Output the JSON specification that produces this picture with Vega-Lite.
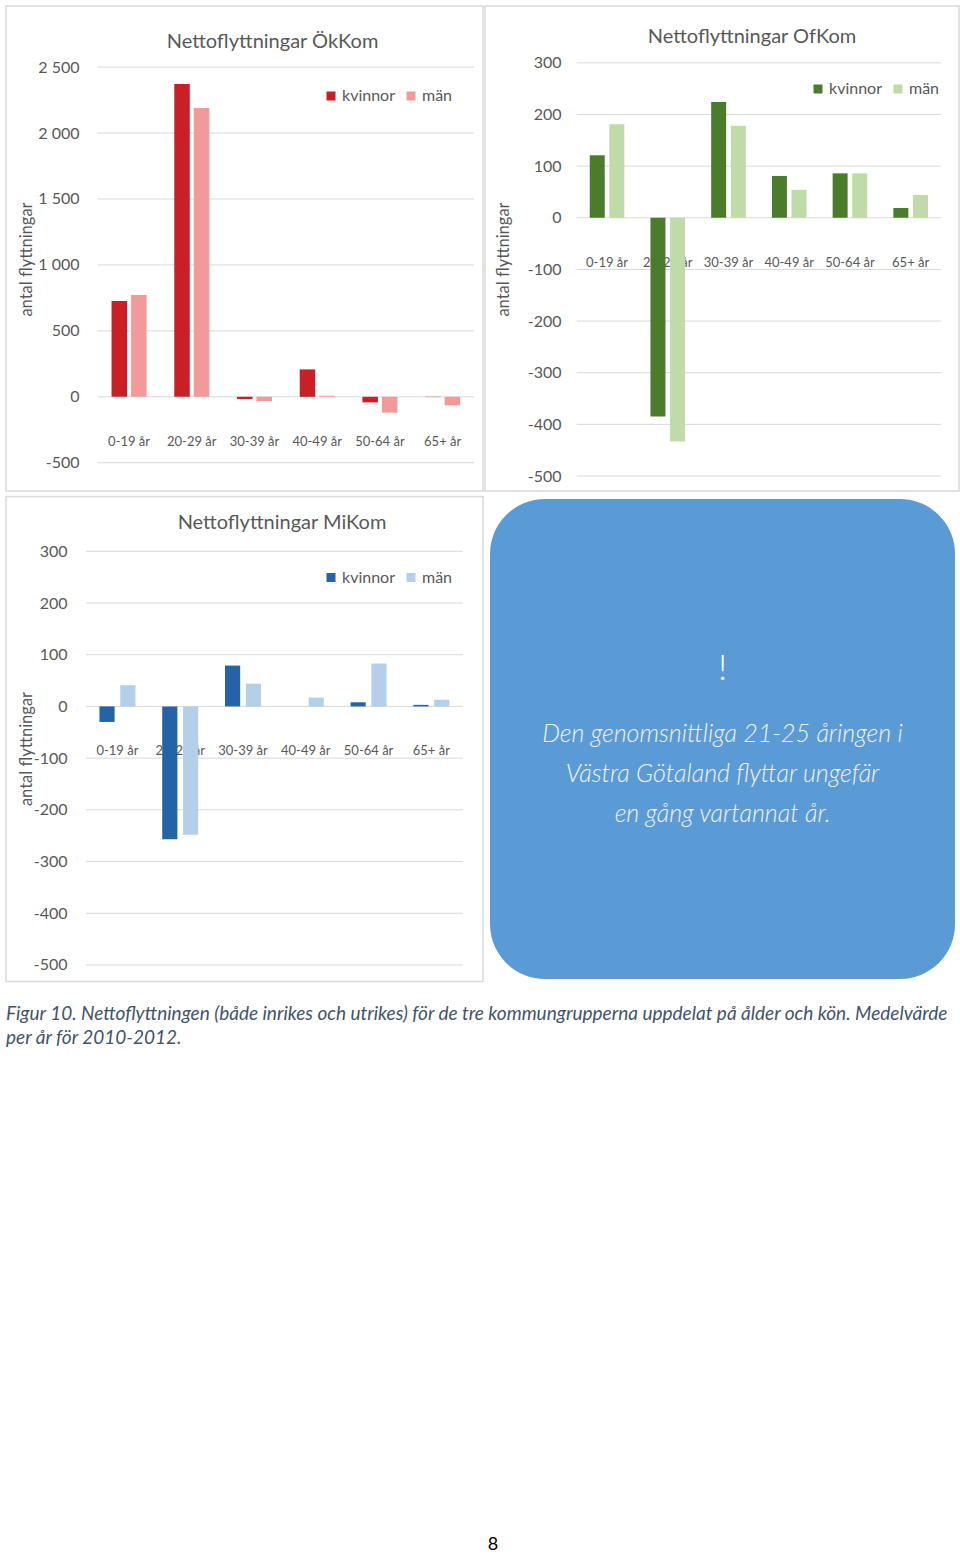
{
"$schema": "https://vega.github.io/schema/vega-lite/v6.json",
"background": "white",
"padding": {"left": 5, "top": 5, "right": 0, "bottom": 0},
"spacing": 22,
"resolve": {"scale": {"x": "independent", "y": "independent", "color": "independent", "xOffset": "independent"}, "legend": {"color": "independent"}, "axis": {"y": "independent"}},
"config": {
  "font": "Lato",
  "locale": {"number": {"decimal": ",", "thousands": " ", "grouping": [3], "currency": ["", ""], "minus": "-"}},
  "view": {"stroke": "#d9d9d9", "strokeWidth": 1.5},
  "axis": {"domain": false, "ticks": false, "grid": false, "labelPadding": 0, "labelFontSize": 16, "labelColor": "#595959", "labelFont": "Lato", "titleFont": "Lato", "titleFontSize": 16.5, "titleColor": "#595959", "titleFontWeight": "normal", "titleBaseline": "middle", "titleAlign": "center", "titleAngle": -90},
  "legend": {"orient": "none", "direction": "horizontal", "symbolType": "square", "symbolSize": 81, "symbolStrokeWidth": 0, "labelFontSize": 16, "labelColor": "#595959", "labelFont": "Lato", "padding": 0, "columnPadding": 8, "labelOffset": 3},
  "title": {"font": "Lato", "fontSize": 20, "color": "#595959", "fontWeight": "normal", "anchor": "middle", "frame": "group"}
},
"datasets": {
  "ok": [
    {"age": "0-19 år", "kon": "kvinnor", "v": 726}, {"age": "0-19 år", "kon": "män", "v": 772},
    {"age": "20-29 år", "kon": "kvinnor", "v": 2372}, {"age": "20-29 år", "kon": "män", "v": 2190},
    {"age": "30-39 år", "kon": "kvinnor", "v": -17}, {"age": "30-39 år", "kon": "män", "v": -32},
    {"age": "40-49 år", "kon": "kvinnor", "v": 208}, {"age": "40-49 år", "kon": "män", "v": 8},
    {"age": "50-64 år", "kon": "kvinnor", "v": -42}, {"age": "50-64 år", "kon": "män", "v": -120},
    {"age": "65+ år", "kon": "kvinnor", "v": -2}, {"age": "65+ år", "kon": "män", "v": -64}
  ],
  "of": [
    {"age": "0-19 år", "kon": "kvinnor", "v": 121}, {"age": "0-19 år", "kon": "män", "v": 181},
    {"age": "20-29 år", "kon": "kvinnor", "v": -385}, {"age": "20-29 år", "kon": "män", "v": -433},
    {"age": "30-39 år", "kon": "kvinnor", "v": 224}, {"age": "30-39 år", "kon": "män", "v": 178},
    {"age": "40-49 år", "kon": "kvinnor", "v": 81}, {"age": "40-49 år", "kon": "män", "v": 54},
    {"age": "50-64 år", "kon": "kvinnor", "v": 86}, {"age": "50-64 år", "kon": "män", "v": 86},
    {"age": "65+ år", "kon": "kvinnor", "v": 19}, {"age": "65+ år", "kon": "män", "v": 44}
  ],
  "mi": [
    {"age": "0-19 år", "kon": "kvinnor", "v": -30}, {"age": "0-19 år", "kon": "män", "v": 41},
    {"age": "20-29 år", "kon": "kvinnor", "v": -257}, {"age": "20-29 år", "kon": "män", "v": -248},
    {"age": "30-39 år", "kon": "kvinnor", "v": 79}, {"age": "30-39 år", "kon": "män", "v": 44},
    {"age": "40-49 år", "kon": "kvinnor", "v": 0}, {"age": "40-49 år", "kon": "män", "v": 17},
    {"age": "50-64 år", "kon": "kvinnor", "v": 8}, {"age": "50-64 år", "kon": "män", "v": 83},
    {"age": "65+ år", "kon": "kvinnor", "v": 3}, {"age": "65+ år", "kon": "män", "v": 13}
  ],
  "grid_ok": [{"g": -500}, {"g": 0}, {"g": 500}, {"g": 1000}, {"g": 1500}, {"g": 2000}, {"g": 2500}],
  "grid_s": [{"g": -500}, {"g": -400}, {"g": -300}, {"g": -200}, {"g": -100}, {"g": 0}, {"g": 100}, {"g": 200}, {"g": 300}]
},
"vconcat": [
  {
    "vconcat": [
      {
        "hconcat": [
          {
            "width": 477, "height": 485,
            "title": {"text": "Nettoflyttningar ÖkKom", "dx": 28, "offset": -46},
            "layer": [
              {"data": {"name": "grid_ok"}, "mark": {"type": "rule", "color": "#d9d9d9", "strokeWidth": 1},
               "encoding": {
                 "x": {"datum": "0-19 år", "type": "nominal", "bandPosition": 0, "axis": null, "scale": {"domain": ["0-19 år", "20-29 år", "30-39 år", "40-49 år", "50-64 år", "65+ år"], "paddingInner": 0, "paddingOuter": 0.803, "align": 0.9106}},
                 "x2": {"datum": "65+ år", "bandPosition": 1},
                 "y": {"field": "g", "type": "quantitative", "scale": {"domain": [-714, 2963], "nice": false, "zero": false},
                       "axis": {"values": [-500, 0, 500, 1000, 1500, 2000, 2500], "format": ",d", "offset": -73, "title": "antal flyttningar", "titleX": -53, "titleY": 253}}
               }},
              {"data": {"name": "ok"}, "transform": [{"filter": "datum.kon === 'kvinnor'"}],
               "mark": {"type": "text", "dy": 45, "fontSize": 13, "color": "#595959", "baseline": "middle"},
               "encoding": {
                 "x": {"field": "age", "type": "nominal", "axis": null, "scale": {"domain": ["0-19 år", "20-29 år", "30-39 år", "40-49 år", "50-64 år", "65+ år"], "paddingInner": 0, "paddingOuter": 0.803, "align": 0.9106}},
                 "y": {"datum": 0, "type": "quantitative", "scale": {"domain": [-714, 2963], "nice": false, "zero": false},
                       "axis": {"values": [-500, 0, 500, 1000, 1500, 2000, 2500], "format": ",d", "offset": -73, "title": "antal flyttningar", "titleX": -53, "titleY": 253}},
                 "text": {"field": "age", "type": "nominal"}
               }},
              {"data": {"name": "ok"}, "mark": {"type": "bar"},
               "encoding": {
                 "x": {"field": "age", "type": "nominal", "axis": null, "scale": {"domain": ["0-19 år", "20-29 år", "30-39 år", "40-49 år", "50-64 år", "65+ år"], "paddingInner": 0, "paddingOuter": 0.803, "align": 0.9106}},
                 "xOffset": {"field": "kon", "type": "nominal", "scale": {"domain": ["kvinnor", "män"], "paddingInner": 0.205, "paddingOuter": 0.71}},
                 "y": {"field": "v", "type": "quantitative", "scale": {"domain": [-714, 2963], "nice": false, "zero": false},
                       "axis": {"values": [-500, 0, 500, 1000, 1500, 2000, 2500], "format": ",d", "offset": -73, "title": "antal flyttningar", "titleX": -53, "titleY": 253}},
                 "color": {"field": "kon", "type": "nominal", "scale": {"domain": ["kvinnor", "män"], "range": ["#c91f25", "#f29a9a"]}, "legend": {"title": null, "legendX": 317, "legendY": 82}}
               }}
            ]
          },
          {
            "width": 474, "height": 485,
            "title": {"text": "Nettoflyttningar OfKom", "dx": 30, "offset": -41},
            "layer": [
              {"data": {"name": "grid_s"}, "mark": {"type": "rule", "color": "#d9d9d9", "strokeWidth": 1},
               "encoding": {
                 "x": {"datum": "0-19 år", "type": "nominal", "bandPosition": 0, "axis": null, "scale": {"domain": ["0-19 år", "20-29 år", "30-39 år", "40-49 år", "50-64 år", "65+ år"], "paddingInner": 0, "paddingOuter": 0.903, "align": 0.836}},
                 "x2": {"datum": "65+ år", "bandPosition": 1},
                 "y": {"field": "g", "type": "quantitative", "scale": {"domain": [-529, 410], "nice": false, "zero": false},
                       "axis": {"values": [-500, -400, -300, -200, -100, 0, 100, 200, 300], "format": "d", "offset": -76, "title": "antal flyttningar", "titleX": -58, "titleY": 253}}
               }},
              {"data": {"name": "of"}, "transform": [{"filter": "datum.kon === 'kvinnor'"}],
               "mark": {"type": "text", "dy": 45, "fontSize": 13, "color": "#595959", "baseline": "middle"},
               "encoding": {
                 "x": {"field": "age", "type": "nominal", "axis": null, "scale": {"domain": ["0-19 år", "20-29 år", "30-39 år", "40-49 år", "50-64 år", "65+ år"], "paddingInner": 0, "paddingOuter": 0.903, "align": 0.836}},
                 "y": {"datum": 0, "type": "quantitative", "scale": {"domain": [-529, 410], "nice": false, "zero": false},
                       "axis": {"values": [-500, -400, -300, -200, -100, 0, 100, 200, 300], "format": "d", "offset": -76, "title": "antal flyttningar", "titleX": -58, "titleY": 253}},
                 "text": {"field": "age", "type": "nominal"}
               }},
              {"data": {"name": "of"}, "mark": {"type": "bar"},
               "encoding": {
                 "x": {"field": "age", "type": "nominal", "axis": null, "scale": {"domain": ["0-19 år", "20-29 år", "30-39 år", "40-49 år", "50-64 år", "65+ år"], "paddingInner": 0, "paddingOuter": 0.903, "align": 0.836}},
                 "xOffset": {"field": "kon", "type": "nominal", "scale": {"domain": ["kvinnor", "män"], "paddingInner": 0.235, "paddingOuter": 0.666}},
                 "y": {"field": "v", "type": "quantitative", "scale": {"domain": [-529, 410], "nice": false, "zero": false},
                       "axis": {"values": [-500, -400, -300, -200, -100, 0, 100, 200, 300], "format": "d", "offset": -76, "title": "antal flyttningar", "titleX": -58, "titleY": 253}},
                 "color": {"field": "kon", "type": "nominal", "scale": {"domain": ["kvinnor", "män"], "range": ["#4a7c2b", "#bedba8"]}, "legend": {"title": null, "legendX": 325, "legendY": 75}}
               }}
            ]
          }
        ],
        "spacing": 2, "bounds": "flush",
        "resolve": {"scale": {"x": "independent", "y": "independent", "color": "independent", "xOffset": "independent"}, "legend": {"color": "independent"}, "axis": {"y": "independent"}}
      },
      {
        "hconcat": [
          {
            "width": 477, "height": 485,
            "title": {"text": "Nettoflyttningar MiKom", "dx": 37.5, "offset": -36},
            "layer": [
              {"data": {"name": "grid_s"}, "mark": {"type": "rule", "color": "#d9d9d9", "strokeWidth": 1},
               "encoding": {
                 "x": {"datum": "0-19 år", "type": "nominal", "bandPosition": 0, "axis": null, "scale": {"domain": ["0-19 år", "20-29 år", "30-39 år", "40-49 år", "50-64 år", "65+ år"], "paddingInner": 0, "paddingOuter": 0.799, "align": 0.798}},
                 "x2": {"datum": "65+ år", "bandPosition": 1},
                 "y": {"field": "g", "type": "quantitative", "scale": {"domain": [-532, 406], "nice": false, "zero": false},
                       "axis": {"values": [-500, -400, -300, -200, -100, 0, 100, 200, 300], "format": "d", "offset": -61, "title": "antal flyttningar", "titleX": -41, "titleY": 252}}
               }},
              {"data": {"name": "mi"}, "transform": [{"filter": "datum.kon === 'kvinnor'"}],
               "mark": {"type": "text", "dy": 45, "fontSize": 13, "color": "#595959", "baseline": "middle"},
               "encoding": {
                 "x": {"field": "age", "type": "nominal", "axis": null, "scale": {"domain": ["0-19 år", "20-29 år", "30-39 år", "40-49 år", "50-64 år", "65+ år"], "paddingInner": 0, "paddingOuter": 0.799, "align": 0.798}},
                 "y": {"datum": 0, "type": "quantitative", "scale": {"domain": [-532, 406], "nice": false, "zero": false},
                       "axis": {"values": [-500, -400, -300, -200, -100, 0, 100, 200, 300], "format": "d", "offset": -61, "title": "antal flyttningar", "titleX": -41, "titleY": 252}},
                 "text": {"field": "age", "type": "nominal"}
               }},
              {"data": {"name": "mi"}, "mark": {"type": "bar"},
               "encoding": {
                 "x": {"field": "age", "type": "nominal", "axis": null, "scale": {"domain": ["0-19 år", "20-29 år", "30-39 år", "40-49 år", "50-64 år", "65+ år"], "paddingInner": 0, "paddingOuter": 0.799, "align": 0.798}},
                 "xOffset": {"field": "kon", "type": "nominal", "scale": {"domain": ["kvinnor", "män"], "paddingInner": 0.273, "paddingOuter": 0.642}},
                 "y": {"field": "v", "type": "quantitative", "scale": {"domain": [-532, 406], "nice": false, "zero": false},
                       "axis": {"values": [-500, -400, -300, -200, -100, 0, 100, 200, 300], "format": "d", "offset": -61, "title": "antal flyttningar", "titleX": -41, "titleY": 252}},
                 "color": {"field": "kon", "type": "nominal", "scale": {"domain": ["kvinnor", "män"], "range": ["#2463a6", "#b4cfea"]}, "legend": {"title": null, "legendX": 317, "legendY": 73}}
               }}
            ]
          },
          {
            "width": 465, "height": 480,
            "view": {"stroke": null},
            "data": {"values": [{"excl": "!", "msg": ["Den genomsnittliga 21-25 åringen i", "Västra Götaland flyttar ungefär", "en gång vartannat år."]}]},
            "layer": [
              {"mark": {"type": "rect", "fill": "#5b9bd5", "cornerRadius": 55}, "encoding": {}},
              {"mark": {"type": "text", "fontSize": 36, "fontWeight": 300, "color": "#ffffff", "dy": -70, "baseline": "middle"}, "encoding": {"text": {"field": "excl", "type": "nominal"}}},
              {"mark": {"type": "text", "fontSize": 25, "fontStyle": "italic", "fontWeight": 300, "color": "#f2f2f2", "lineHeight": 40, "dy": -5, "baseline": "middle"}, "encoding": {"text": {"field": "msg", "type": "nominal"}}}
            ]
          }
        ],
        "spacing": 7, "bounds": "flush", "center": true,
        "resolve": {"scale": {"x": "independent", "y": "independent", "color": "independent", "xOffset": "independent"}, "legend": {"color": "independent"}, "axis": {"y": "independent"}}
      }
    ],
    "spacing": 3.5,
    "resolve": {"scale": {"x": "independent", "y": "independent", "color": "independent", "xOffset": "independent"}, "legend": {"color": "independent"}, "axis": {"y": "independent"}}
  },
  {
    "width": 950, "height": 490,
    "view": {"stroke": null},
    "title": {"text": ["Figur 10. Nettoflyttningen (både inrikes och utrikes) för de tre kommungrupperna uppdelat på ålder och kön. Medelvärde", "per år för 2010-2012."], "anchor": "start", "fontStyle": "italic", "fontSize": 19, "color": "#44546a", "lineHeight": 24, "offset": 4},
    "data": {"values": [{"p": "8"}]},
    "mark": {"type": "text", "fontSize": 18, "color": "#000000", "dx": 12, "dy": 248, "baseline": "middle"},
    "encoding": {"text": {"field": "p", "type": "nominal"}}
  }
]
}
